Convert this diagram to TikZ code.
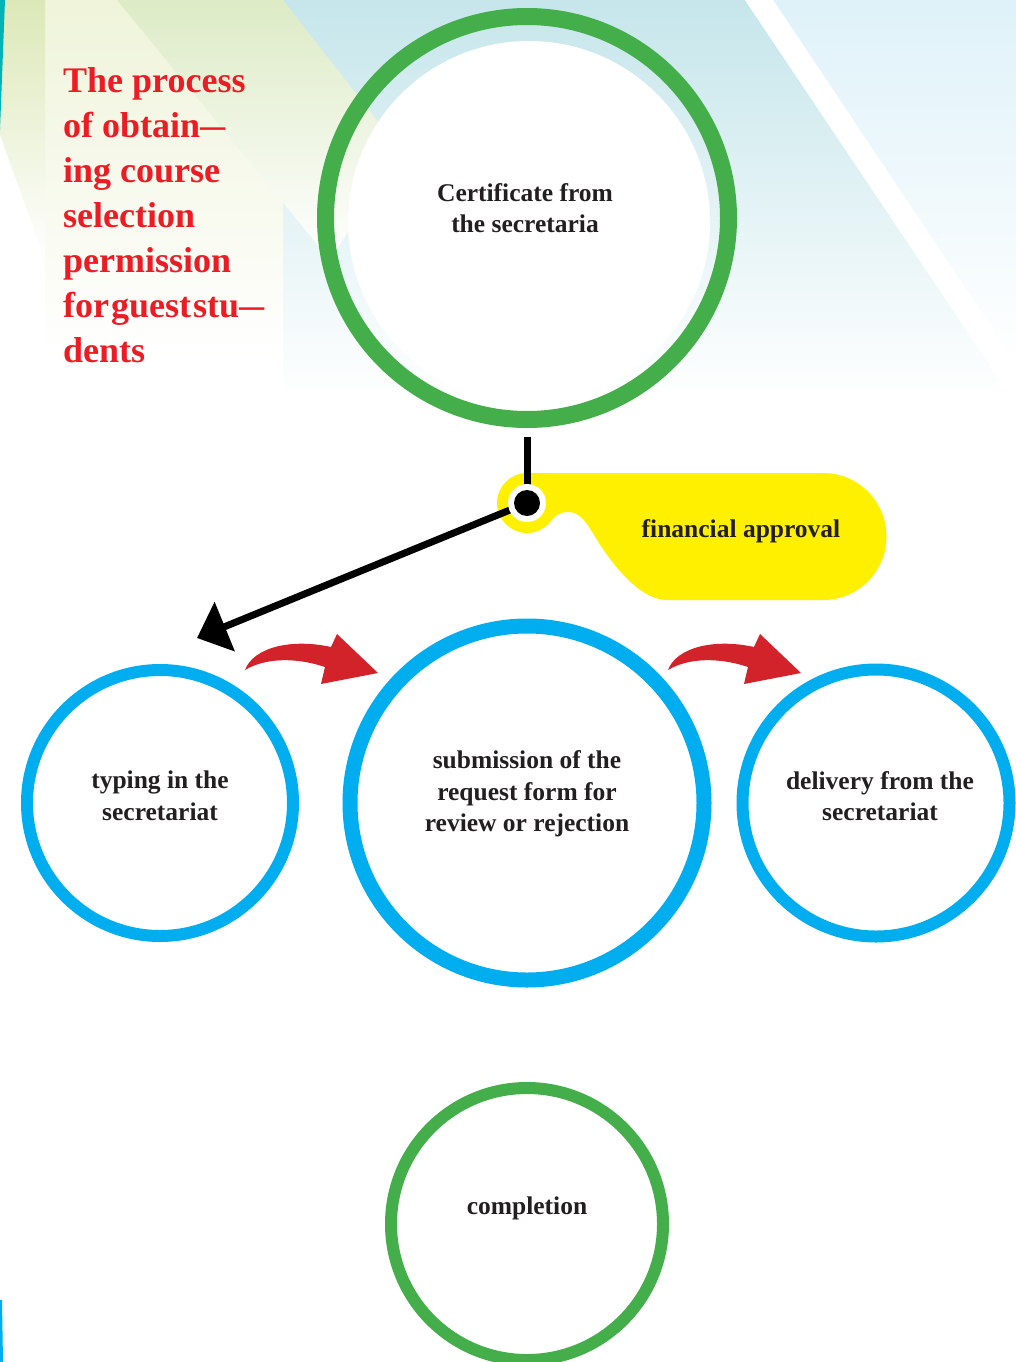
\documentclass[tikz,border=0pt]{standalone}
\usepackage{fontspec}
\setmainfont{Liberation Serif}
\usetikzlibrary{arrows.meta}
\definecolor{ringgreen}{HTML}{43AE4A}
\definecolor{ringblue}{HTML}{00AEEF}
\definecolor{tagyellow}{HTML}{FFF000}
\definecolor{arrowred}{HTML}{D2232A}
\definecolor{titlered}{HTML}{ED1C24}
\definecolor{inkdark}{HTML}{231F20}
\definecolor{bgblue}{HTML}{C6E6EB}
\definecolor{bgbluelight}{HTML}{DFF2F9}
\definecolor{bggreen}{HTML}{DDEBC6}
\definecolor{bggreenleft}{HTML}{DCE8B8}
\definecolor{bgyellow}{HTML}{EFF4DA}
\definecolor{bgteal}{HTML}{00B3B5}
\newcommand{\shortdash}{\scalebox{0.7}[1]{—}}
\tikzset{
  ring/.style={circle, draw, fill=white, inner sep=0pt},
  steptext/.style={font=\bfseries\fontsize{25.5}{31.5}\selectfont, text=inkdark, align=center, inner sep=0pt},
  connector/.style={line width=7pt, draw=black},
  curvedarrow/.pic={
    \fill[arrowred] (0,0) .. controls (8,22) and (45,32) .. (86,23)
      -- (92,36) -- (133,-3) -- (76,-14) -- (80,3)
      .. controls (50,13) and (20,12) .. (0,0) -- cycle;
  }
}
\begin{document}
\begin{tikzpicture}[x=1pt, y=1pt]
\useasboundingbox (0,0) rectangle (1016,-1362);
% ---- background decoration ----
\shade[top color=bgblue, bottom color=white] (283,0) -- (745,0) -- (1013,-400) -- (283,-400) -- cycle;
\shade[top color=bgbluelight, bottom color=white] (773,0) -- (1016,0) -- (1016,-364) -- cycle;
\fill[white] (745,0) -- (773,0) -- (1016,-364) -- (1016,-404) -- cycle;
\shade[top color=bgyellow, bottom color=white] (45,0) rectangle (283,-360);
\shade[top color=bggreen, bottom color=white] (117,0) -- (283,0) -- (400,-150) -- (330,-260) -- cycle;
\shade[top color=bggreenleft, bottom color=white] (4,0) -- (45,0) -- (45,-260) -- (0,-135) -- cycle;
\fill[bgteal] (0,0) -- (5,0) -- (0,-130) -- cycle;
\fill[ringblue] (0,-1300) -- (2,-1300) -- (3,-1362) -- (0,-1362) -- cycle;
% ---- title ----
\node[anchor=north west, inner sep=0pt, align=left, text=titlered,
      font=\bfseries\fontsize{36}{45}\selectfont] (title) at (63,-67)
  {The process\\of obtain\shortdash\\ing course\\selection\\permission\\for\kern2pt guest\kern2pt stu\shortdash\\dents};
% ---- top circle ----
\fill[white] (529,-222) circle[radius=181];
\node[ring, fill=none, draw=ringgreen, line width=17pt, minimum size=403pt] (cert) at (527,-218) {};
\node[steptext] (certtext) at (525,-208) {Certificate from\\the secretaria};
% ---- middle row ----
\node[ring, draw=ringblue, line width=12pt, minimum size=266pt] (typing) at (160,-803) {};
\node[ring, draw=ringblue, line width=15pt, minimum size=354pt] (submit) at (527,-803) {};
\node[ring, draw=ringblue, line width=12pt, minimum size=267pt] (delivery) at (876,-803) {};
\node[steptext] (typingtext) at (160,-796) {typing in the\\secretariat};
\node[steptext] (submittext) at (527,-794) {submission of the\\request form for\\review or rejection};
\node[steptext] (deliverytext) at (880,-796) {delivery from the\\secretariat};
% ---- bottom circle ----
\node[ring, draw=ringgreen, line width=12pt, minimum size=272pt] (done) at (527,-1224) {};
\node[steptext] (donetext) at (527,-1208) {completion};
% ---- financial approval tag ----
\coordinate (hub) at (527,-503);
\coordinate (tip) at (197,-638);
\fill[tagyellow] (hub) circle[radius=30];
\fill[tagyellow] (527,-473) -- (823,-473) arc[start angle=90, end angle=-90, radius=63.5]
  -- (667,-600) .. controls (640,-600) and (612,-565) .. (594,-535)
  .. controls (586,-522) and (580,-512) .. (568,-512)
  .. controls (560,-512) and (554,-516) .. (550,-522) -- (527,-503) -- cycle;
\node[steptext] (fin) at (741,-531) {financial approval};
% ---- connectors ----
\draw[connector] ([yshift=-9pt]cert.south) -- (hub);
\draw[connector, -{Triangle[length=30pt, width=52pt]}] (hub) -- (tip);
\fill[white] (hub) circle[radius=19];
\fill[black] (hub) circle[radius=13];
\pic at (245,-670) {curvedarrow};
\pic at (668,-670) {curvedarrow};
\end{tikzpicture}
\end{document}
